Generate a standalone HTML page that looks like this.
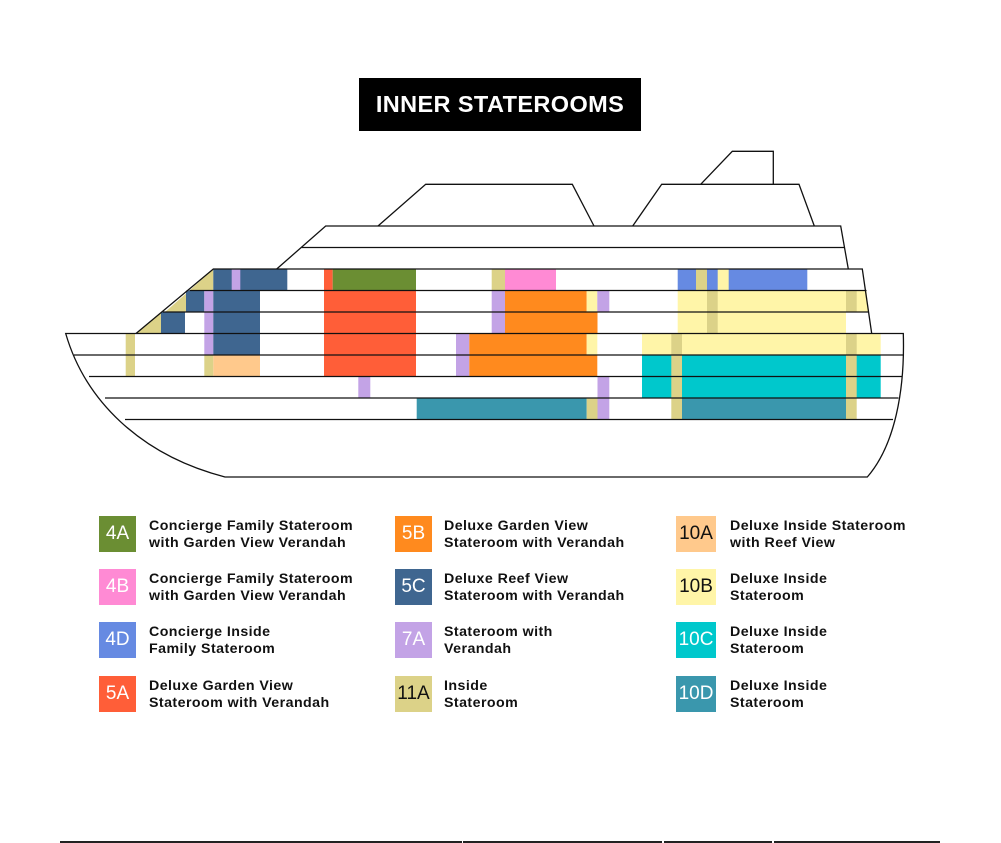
<!DOCTYPE html>
<html><head><meta charset="utf-8"><style>
html,body{margin:0;padding:0;background:#fff;}
body{width:1001px;height:843px;position:relative;overflow:hidden;font-family:"Liberation Sans",sans-serif;}
.title{position:absolute;left:359px;top:78px;width:282px;height:53px;background:#000;color:#fff;font-weight:bold;font-size:23.5px;line-height:53px;text-align:center;letter-spacing:0.4px;}
.sw{position:absolute;width:37px;height:36px;color:#fff;font-size:19px;line-height:36px;text-align:center;}
.tx{position:absolute;font-size:14.2px;line-height:17px;color:#111;font-weight:bold;letter-spacing:0.45px;}
.bl{position:absolute;top:841px;height:2px;background:#222;}
</style></head><body>
<div class="title">INNER STATEROOMS</div>
<svg width="1001" height="843" style="position:absolute;left:0;top:0">
<g stroke="none">
<polygon points="189.5,290.5 213.3,269 213.3,290.5" fill="#dcd288"/>
<rect x="213.3" y="269" width="74" height="21.5" fill="#3f6690"/>
<rect x="231.7" y="269" width="8.6" height="21.5" fill="#c3a3e6"/>
<rect x="324" y="269" width="8.7" height="21.5" fill="#ff5e38"/>
<rect x="332.7" y="269" width="83.3" height="21.5" fill="#6b8e33"/>
<rect x="491.7" y="269" width="13.3" height="21.5" fill="#dcd288"/>
<rect x="505" y="269" width="51" height="21.5" fill="#ff8ad4"/>
<rect x="677.7" y="269" width="129.6" height="21.5" fill="#668ae2"/>
<rect x="696" y="269" width="11" height="21.5" fill="#dcd288"/>
<rect x="717.7" y="269" width="11" height="21.5" fill="#fff5a8"/>
<polygon points="165,312 189.5,290.5 186,290.5 186,312" fill="#dcd288"/>
<rect x="186" y="290.5" width="18.3" height="21.5" fill="#3f6690"/>
<rect x="204.3" y="290.5" width="9" height="21.5" fill="#c3a3e6"/>
<rect x="213.3" y="290.5" width="46.7" height="21.5" fill="#3f6690"/>
<rect x="324" y="290.5" width="92" height="21.5" fill="#ff5e38"/>
<rect x="491.7" y="290.5" width="13.3" height="21.5" fill="#c3a3e6"/>
<rect x="505" y="290.5" width="81.7" height="21.5" fill="#ff8a1e"/>
<rect x="586.7" y="290.5" width="10.6" height="21.5" fill="#fff5a8"/>
<rect x="597.3" y="290.5" width="12" height="21.5" fill="#c3a3e6"/>
<polygon points="677.7,290.5 866.5,290.5 868.5,312 677.7,312" fill="#fff5a8"/>
<rect x="707" y="290.5" width="10.7" height="21.5" fill="#dcd288"/>
<rect x="846" y="290.5" width="10.7" height="21.5" fill="#dcd288"/>
<polygon points="136,333.5 161,312 161,333.5" fill="#dcd288"/>
<rect x="161" y="312" width="24" height="21.5" fill="#3f6690"/>
<rect x="204.3" y="312" width="9" height="21.5" fill="#c3a3e6"/>
<rect x="213.3" y="312" width="46.7" height="21.5" fill="#3f6690"/>
<rect x="324" y="312" width="92" height="21.5" fill="#ff5e38"/>
<rect x="491.7" y="312" width="13.3" height="21.5" fill="#c3a3e6"/>
<rect x="505" y="312" width="92.5" height="21.5" fill="#ff8a1e"/>
<rect x="677.7" y="312" width="168.3" height="21.5" fill="#fff5a8"/>
<rect x="707" y="312" width="10.7" height="21.5" fill="#dcd288"/>
<rect x="125.7" y="333.5" width="9.3" height="43" fill="#dcd288"/>
<rect x="204.3" y="333.5" width="9" height="21.5" fill="#c3a3e6"/>
<rect x="204.3" y="355" width="9" height="21.5" fill="#dcd288"/>
<rect x="213.3" y="333.5" width="46.7" height="21.5" fill="#3f6690"/>
<rect x="213.3" y="355" width="46.7" height="21.5" fill="#ffc98c"/>
<rect x="324" y="333.5" width="92" height="43" fill="#ff5e38"/>
<rect x="456" y="333.5" width="13.3" height="43" fill="#c3a3e6"/>
<rect x="469.3" y="333.5" width="117.4" height="21.5" fill="#ff8a1e"/>
<rect x="586.7" y="333.5" width="10.6" height="21.5" fill="#fff5a8"/>
<rect x="469.3" y="355" width="128" height="21.5" fill="#ff8a1e"/>
<rect x="642" y="333.5" width="238.7" height="21.5" fill="#fff5a8"/>
<rect x="642" y="355" width="238.7" height="43" fill="#00c8cc"/>
<rect x="671.3" y="333.5" width="10.7" height="86" fill="#dcd288"/>
<rect x="846" y="333.5" width="10.7" height="86" fill="#dcd288"/>
<rect x="358.3" y="376.5" width="12" height="21.5" fill="#c3a3e6"/>
<rect x="597.5" y="376.5" width="11.8" height="43" fill="#c3a3e6"/>
<rect x="416.7" y="398" width="170" height="21.5" fill="#3a97ad"/>
<rect x="586.7" y="398" width="10.8" height="21.5" fill="#dcd288"/>
<rect x="682" y="398" width="164" height="21.5" fill="#3a97ad"/>
</g>
<g stroke="#111" stroke-width="1.3" fill="none">
<polyline points="378,226 425.7,184.3 572.3,184.3 594,226"/>
<polyline points="632.7,226 661.7,184.3 799,184.3 814.3,226"/>
<polyline points="700.7,184.3 732.3,151.3 773.3,151.3 773.3,184.3"/>
<polyline points="276.7,269 325.7,226 840.7,226 848.3,269"/>
<line x1="301.7" y1="247.5" x2="844.5" y2="247.5"/>
<polyline points="136,333.5 213.3,269 862.3,269 871.7,333.5"/>
<line x1="189.5" y1="290.5" x2="866.5" y2="290.5"/>
<line x1="163" y1="312" x2="869" y2="312"/>
<path d="M65.7,333.5 L903.3,333.5 C905,390 895,445 867.3,477 L225,477 C140,455 85,400 65.7,333.5 Z"/>
<line x1="74" y1="355" x2="903.8" y2="355"/>
<line x1="89" y1="376.5" x2="902" y2="376.5"/>
<line x1="105" y1="398" x2="898.5" y2="398"/>
<line x1="125" y1="419.5" x2="893" y2="419.5"/>
</g>
</svg>

<div class="sw" style="left:99px;top:516px;background:#6b8e33">4A</div>
<div class="tx" style="left:149px;top:518px">Concierge Family Stateroom<br>with Garden View Verandah</div>
<div class="sw" style="left:99px;top:569px;background:#ff8ad4">4B</div>
<div class="tx" style="left:149px;top:571px">Concierge Family Stateroom<br>with Garden View Verandah</div>
<div class="sw" style="left:99px;top:622px;background:#668ae2">4D</div>
<div class="tx" style="left:149px;top:624px">Concierge Inside<br>Family Stateroom</div>
<div class="sw" style="left:99px;top:676px;background:#ff5e38">5A</div>
<div class="tx" style="left:149px;top:678px">Deluxe Garden View<br>Stateroom with Verandah</div>

<div class="sw" style="left:395px;top:516px;background:#ff8a1e">5B</div>
<div class="tx" style="left:444px;top:518px">Deluxe Garden View<br>Stateroom with Verandah</div>
<div class="sw" style="left:395px;top:569px;background:#3f6690">5C</div>
<div class="tx" style="left:444px;top:571px">Deluxe Reef View<br>Stateroom with Verandah</div>
<div class="sw" style="left:395px;top:622px;background:#c3a3e6">7A</div>
<div class="tx" style="left:444px;top:624px">Stateroom with<br>Verandah</div>
<div class="sw" style="left:395px;top:676px;background:#dcd288;color:#111">11A</div>
<div class="tx" style="left:444px;top:678px">Inside<br>Stateroom</div>

<div class="sw" style="left:676px;top:516px;width:40px;background:#ffc98c;color:#111">10A</div>
<div class="tx" style="left:730px;top:518px">Deluxe Inside Stateroom<br>with Reef View</div>
<div class="sw" style="left:676px;top:569px;width:40px;background:#fff5a8;color:#111">10B</div>
<div class="tx" style="left:730px;top:571px">Deluxe Inside<br>Stateroom</div>
<div class="sw" style="left:676px;top:622px;width:40px;background:#00c8cc">10C</div>
<div class="tx" style="left:730px;top:624px">Deluxe Inside<br>Stateroom</div>
<div class="sw" style="left:676px;top:676px;width:40px;background:#3a97ad">10D</div>
<div class="tx" style="left:730px;top:678px">Deluxe Inside<br>Stateroom</div>

<div class="bl" style="left:60px;width:402px"></div>
<div class="bl" style="left:463px;width:199px"></div>
<div class="bl" style="left:664px;width:108px"></div>
<div class="bl" style="left:774px;width:166px"></div>
</body></html>
